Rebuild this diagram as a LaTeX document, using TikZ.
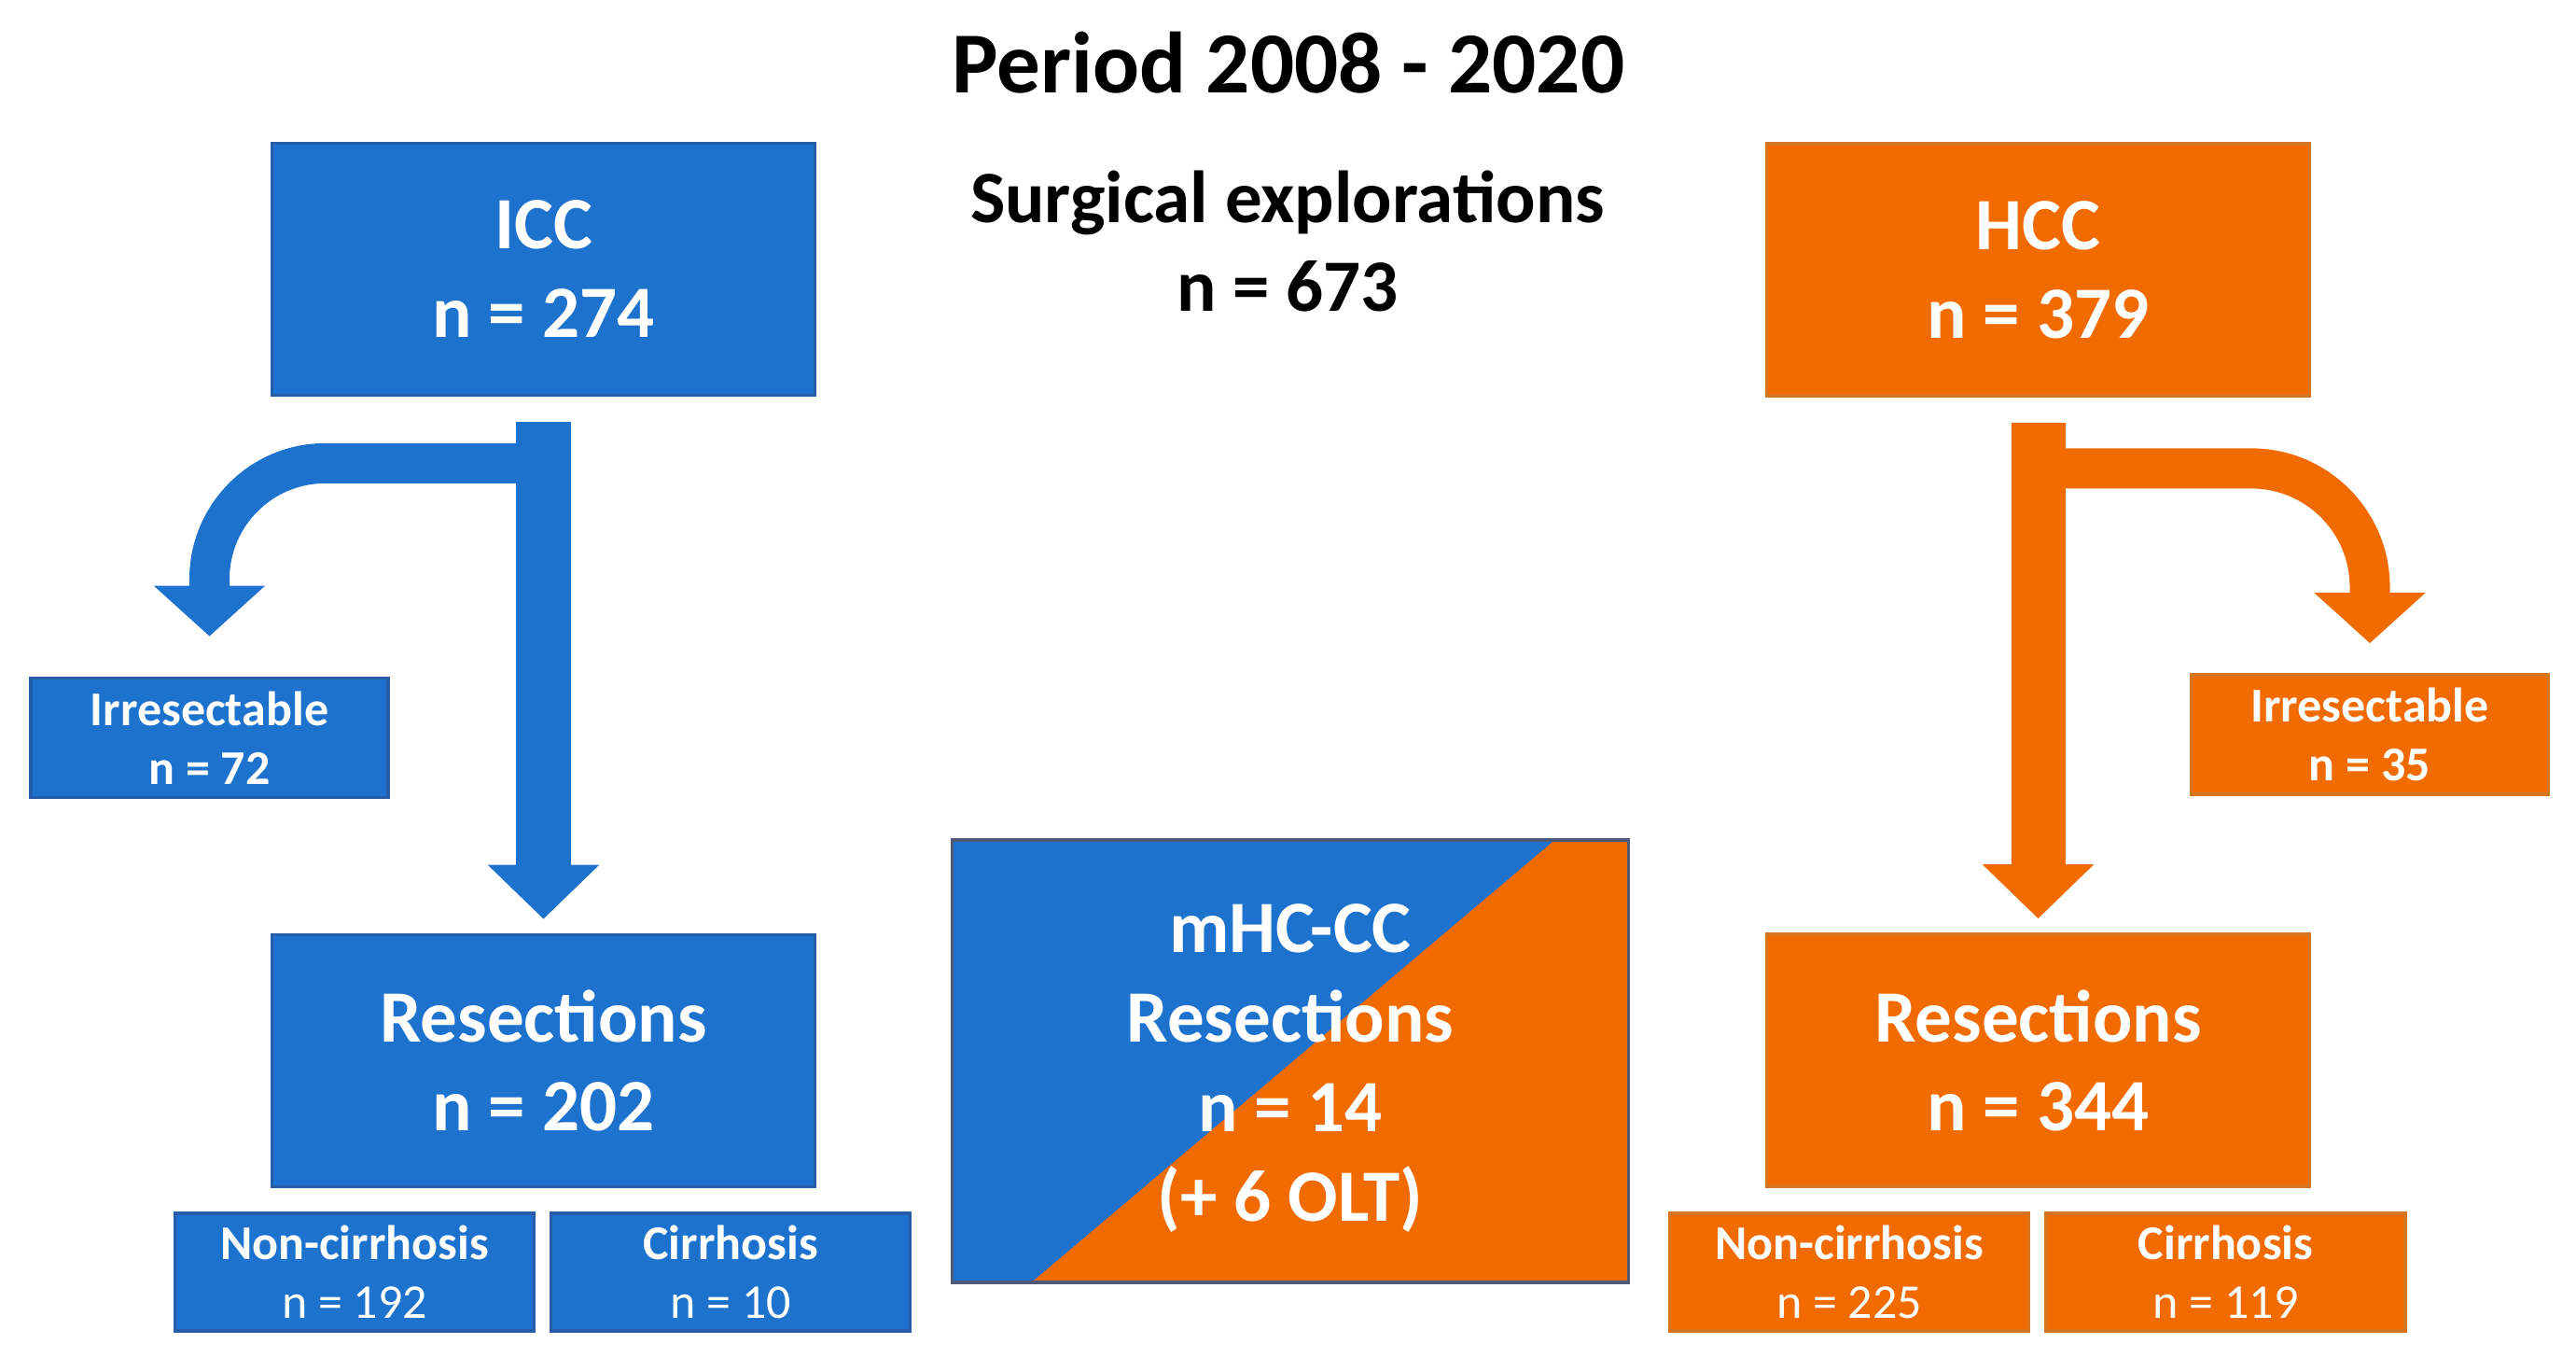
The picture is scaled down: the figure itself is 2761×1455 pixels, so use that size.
\documentclass[tikz,border=0pt]{standalone}
\usepackage{fontspec}
\setmainfont{Carlito}
\usetikzlibrary{arrows.meta,calc}
\definecolor{cblue}{RGB}{29,114,205}
\definecolor{corange}{RGB}{241,107,0}
\definecolor{cblueedge}{RGB}{38,92,168}
\definecolor{corangeedge}{RGB}{214,118,32}
\definecolor{mixedge}{RGB}{80,90,120}
\newcommand{\bigtxt}{\bfseries\fontsize{22.5}{27}\selectfont}
\newcommand{\mixtxt}{\bfseries\fontsize{22.5}{27.3}\selectfont}
\newcommand{\smltxt}{\fontsize{14.8}{17.9}\selectfont}
\begin{document}
\begin{tikzpicture}[x=0.01cm,y=-0.01cm,
  base/.style={rectangle, inner sep=0pt, align=center, text=white, line width=1pt},
  bbox/.style={base, fill=cblue, draw=cblueedge},
  obox/.style={base, fill=corange, draw=corangeedge},
  bigbox/.style={minimum width=5.82cm, minimum height=2.70cm, font=\bigtxt},
  irrbox/.style={minimum width=3.83cm, minimum height=1.28cm, font=\smltxt\bfseries},
  subbox/.style={minimum width=3.85cm, minimum height=1.26cm, font=\smltxt},
  shaft/.style={line width=0.58cm, -{Triangle[width=1.16cm,length=0.58cm]}},
  bent/.style={line width=0.43cm, -{Triangle[width=1.16cm,length=0.54cm]}},
]
\useasboundingbox[fill=white] (0,0) rectangle (2761,1455);

% headings
\node[font=\bfseries\fontsize{26.5}{32}\selectfont] (title) at (1381,67) {Period 2008 - 2020};
\node[align=center, inner sep=0pt, font=\bigtxt] (surg) at (1380,258) {Surgical explorations\\n = 673};

% main boxes
\node[bbox, bigbox] (icc) at (582.5,288.5) {ICC\\n = 274};
\node[obox, bigbox] (hcc) at (2184.5,289) {HCC\\n = 379};
\node[bbox, bigbox] (resL) at (582.5,1136.5) {Resections\\n = 202};
\node[obox, bigbox] (resR) at (2184.5,1136) {Resections\\n = 344};

% irresectable
\node[bbox, irrbox] (irrL) at (224.5,790.5) {Irresectable\\n = 72};
\node[obox, irrbox] (irrR) at (2540,787) {Irresectable\\n = 35};

% sub boxes
\node[bbox, subbox] (ncL) at (380,1363) {\textbf{Non-cirrhosis}\\n = 192};
\node[bbox, subbox] (cL) at (783,1363) {\textbf{Cirrhosis}\\n = 10};
\node[obox, subbox] (ncR) at (1982,1363) {\textbf{Non-cirrhosis}\\n = 225};
\node[obox, subbox] (cR) at (2385.5,1363) {\textbf{Cirrhosis}\\n = 119};

% mixed box
\node[base, draw=mixedge, fill=cblue, minimum width=7.25cm, minimum height=4.74cm,
  path picture={\fill[corange] ([xshift=-0.79cm]path picture bounding box.north east)
     -- (path picture bounding box.north east)
     -- (path picture bounding box.south east)
     -- ([xshift=0.85cm]path picture bounding box.south west) -- cycle;},
  label={[font=\mixtxt, text=white, align=center, inner sep=0pt, yshift=-0.08cm]center:{mHC-CC\\Resections\\n = 14\\(+ 6 OLT)}}]
  (mix) at (1383,1137) {};

% arrows
\coordinate (sL) at ([yshift=-0.71cm]icc.south);
\coordinate (sR) at ([yshift=-0.76cm]hcc.south);
\draw[bent, cblue, rounded corners=1.24cm] (sL) -| ([yshift=0.43cm]irrL.north);
\draw[bent, corange, rounded corners=1.27cm] (sR) -| ([yshift=0.32cm]irrR.north);
\draw[shaft, cblue] ([yshift=-0.27cm]icc.south) -- ([yshift=0.15cm]resL.north);
\draw[shaft, corange] ([yshift=-0.27cm]hcc.south) -- ([yshift=0.15cm]resR.north);
\end{tikzpicture}
\end{document}
